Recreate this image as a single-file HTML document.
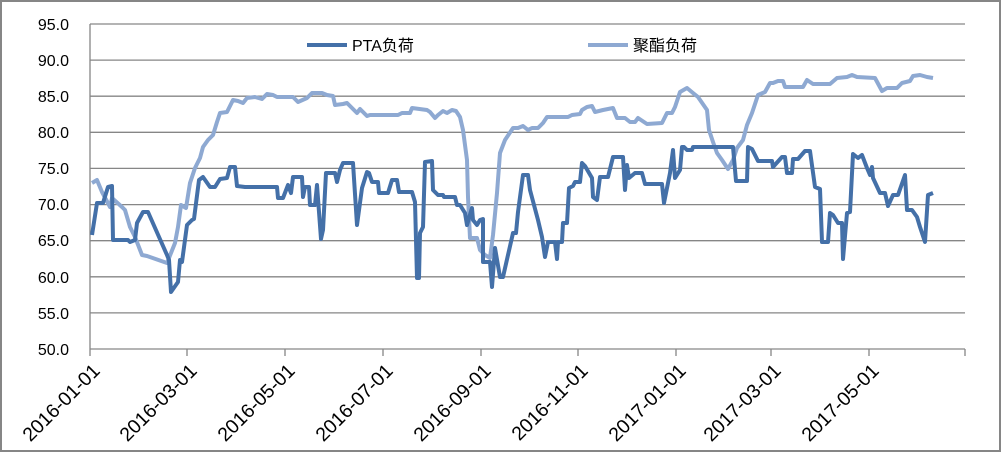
<!DOCTYPE html>
<html><head><meta charset="utf-8"><style>
html,body{margin:0;padding:0;background:#fff}
svg{display:block}
text{font-family:"Liberation Sans","Noto Sans CJK SC",sans-serif;font-size:16px;fill:#000}
.xl{font-size:19.5px}
</style></head><body>
<svg width="1001" height="452" viewBox="0 0 1001 452">
<rect x="1" y="1" width="999" height="450" fill="#fff" stroke="#868686" stroke-width="2"/>
<g stroke="#868686" stroke-width="1.3">
<line x1="90" y1="24" x2="965" y2="24"/><line x1="90" y1="60.1" x2="965" y2="60.1"/>
<line x1="90" y1="96.2" x2="965" y2="96.2"/><line x1="90" y1="132.3" x2="965" y2="132.3"/>
<line x1="90" y1="168.4" x2="965" y2="168.4"/><line x1="90" y1="204.6" x2="965" y2="204.6"/>
<line x1="90" y1="240.7" x2="965" y2="240.7"/><line x1="90" y1="276.8" x2="965" y2="276.8"/>
<line x1="90" y1="312.9" x2="965" y2="312.9"/><line x1="90" y1="349" x2="965" y2="349"/>
<line x1="90" y1="24" x2="90" y2="356"/>
<line x1="187" y1="349" x2="187" y2="356"/><line x1="285" y1="349" x2="285" y2="356"/>
<line x1="383" y1="349" x2="383" y2="356"/><line x1="481" y1="349" x2="481" y2="356"/>
<line x1="578" y1="349" x2="578" y2="356"/><line x1="676" y1="349" x2="676" y2="356"/>
<line x1="771" y1="349" x2="771" y2="356"/><line x1="869" y1="349" x2="869" y2="356"/>
<line x1="965" y1="349" x2="965" y2="356"/>
</g>
<g text-anchor="end">
<text x="69" y="30">95.0</text><text x="69" y="66">90.0</text><text x="69" y="102">85.0</text>
<text x="69" y="138">80.0</text><text x="69" y="174">75.0</text><text x="69" y="210">70.0</text>
<text x="69" y="246">65.0</text><text x="69" y="283">60.0</text><text x="69" y="319">55.0</text>
<text x="69" y="355">50.0</text>
<text class="xl" transform="translate(101,372) rotate(-45)">2016-01-01</text>
<text class="xl" transform="translate(198,372) rotate(-45)">2016-03-01</text>
<text class="xl" transform="translate(296,372) rotate(-45)">2016-05-01</text>
<text class="xl" transform="translate(394,372) rotate(-45)">2016-07-01</text>
<text class="xl" transform="translate(492,372) rotate(-45)">2016-09-01</text>
<text class="xl" transform="translate(589,372) rotate(-45)">2016-11-01</text>
<text class="xl" transform="translate(687,372) rotate(-45)">2017-01-01</text>
<text class="xl" transform="translate(782,372) rotate(-45)">2017-03-01</text>
<text class="xl" transform="translate(880,372) rotate(-45)">2017-05-01</text>
</g>
<polyline fill="none" stroke="#8EA9D2" stroke-width="4" stroke-linejoin="round" points="92,183 97,180 102,192 110,207 112,198 122,207 125,210 130,227 135,237 142,255 147,256 167,263 175,243 178,227 181,205 186,208 190,183 195,168 200,158 203,147 208,140 213,135 217,122 220,113 227,112 233,100 238,101 243,103 247,98 255,97 262,99 267,94 273,95 277,97 293,97 298,102 307,98 312,93 322,93 327,95 333,96 335,105 343,104 347,103 357,113 360,109 367,116 370,115 398,115 402,113 410,113 412,108 427,110 430,112 435,118 438,115 443,111 447,113 452,110 456,111 460,117 463,130 467,160 468,197 470,238 477,238 480,250 485,255 490,258 493,235 497,193 500,153 505,140 513,128 518,128 523,126 528,130 532,128 538,128 543,123 547,117 568,117 572,115 580,114 582,110 587,107 592,106 595,112 603,110 613,108 617,118 625,118 630,122 635,122 638,118 647,124 662,123 667,113 672,113 675,107 680,92 687,88 693,93 698,97 707,110 709,130 713,142 717,153 722,160 728,169 733,160 737,148 743,140 747,125 752,113 758,95 765,92 770,83 773,83 778,81 783,81 785,87 803,87 807,80 813,84 830,84 837,78 847,77 852,75 857,77 875,78 882,91 887,88 897,88 902,83 910,81 913,76 920,75 927,77 933,78"/>
<polyline fill="none" stroke="#4470A8" stroke-width="4" stroke-linejoin="round" points="92,235 97,203 103,203 108,187 112,186 113,240 128,240 130,242 135,240 137,223 143,212 148,212 167,255 169,260 171,292 178,282 180,260 182,262 187,225 192,220 194,219 199,180 203,177 210,187 215,187 220,179 227,178 230,167 235,167 237,186 245,187 277,187 278,198 283,198 288,185 291,193 293,177 302,177 303,197 305,187 309,187 310,205 315,205 317,185 321,239 323,230 326,173 335,173 337,182 340,170 343,163 353,163 357,225 362,188 367,172 369,173 372,182 378,182 379,193 388,193 392,180 397,180 399,192 412,192 415,202 417,278 419,278 420,233 423,227 425,162 432,161 433,190 438,195 443,195 444,197 455,197 457,205 460,205 465,213 467,225 472,208 473,220 477,225 480,220 483,219 483,262 490,262 492,287 495,248 500,277 503,277 513,233 516,233 518,212 523,175 528,175 530,190 538,220 542,237 545,257 548,242 555,242 557,259 558,242 562,242 563,223 567,223 569,188 573,186 575,182 580,182 582,163 585,166 592,178 593,197 597,200 600,177 608,177 613,157 623,157 625,190 627,165 629,178 635,173 642,173 645,184 662,184 664,203 670,173 673,150 675,178 680,170 682,147 684,147 687,150 692,150 693,147 733,147 736,181 747,181 748,147 752,149 758,161 772,161 773,167 782,157 785,157 787,173 792,173 793,159 798,159 805,151 810,151 815,187 820,189 822,242 828,242 830,213 833,215 838,223 842,223 843,259 847,213 850,212 853,154 858,158 862,155 867,168 870,175 872,167 873,178 880,193 885,193 888,206 893,195 898,195 905,175 907,210 912,210 917,217 920,227 925,242 928,195 933,193"/>
<line x1="307" y1="45" x2="347" y2="45" stroke="#4470A8" stroke-width="4"/>
<text x="352" y="51">PTA负荷</text>
<line x1="588" y1="45" x2="628" y2="45" stroke="#8EA9D2" stroke-width="4"/>
<text x="633" y="51">聚酯负荷</text>
</svg>
</body></html>
